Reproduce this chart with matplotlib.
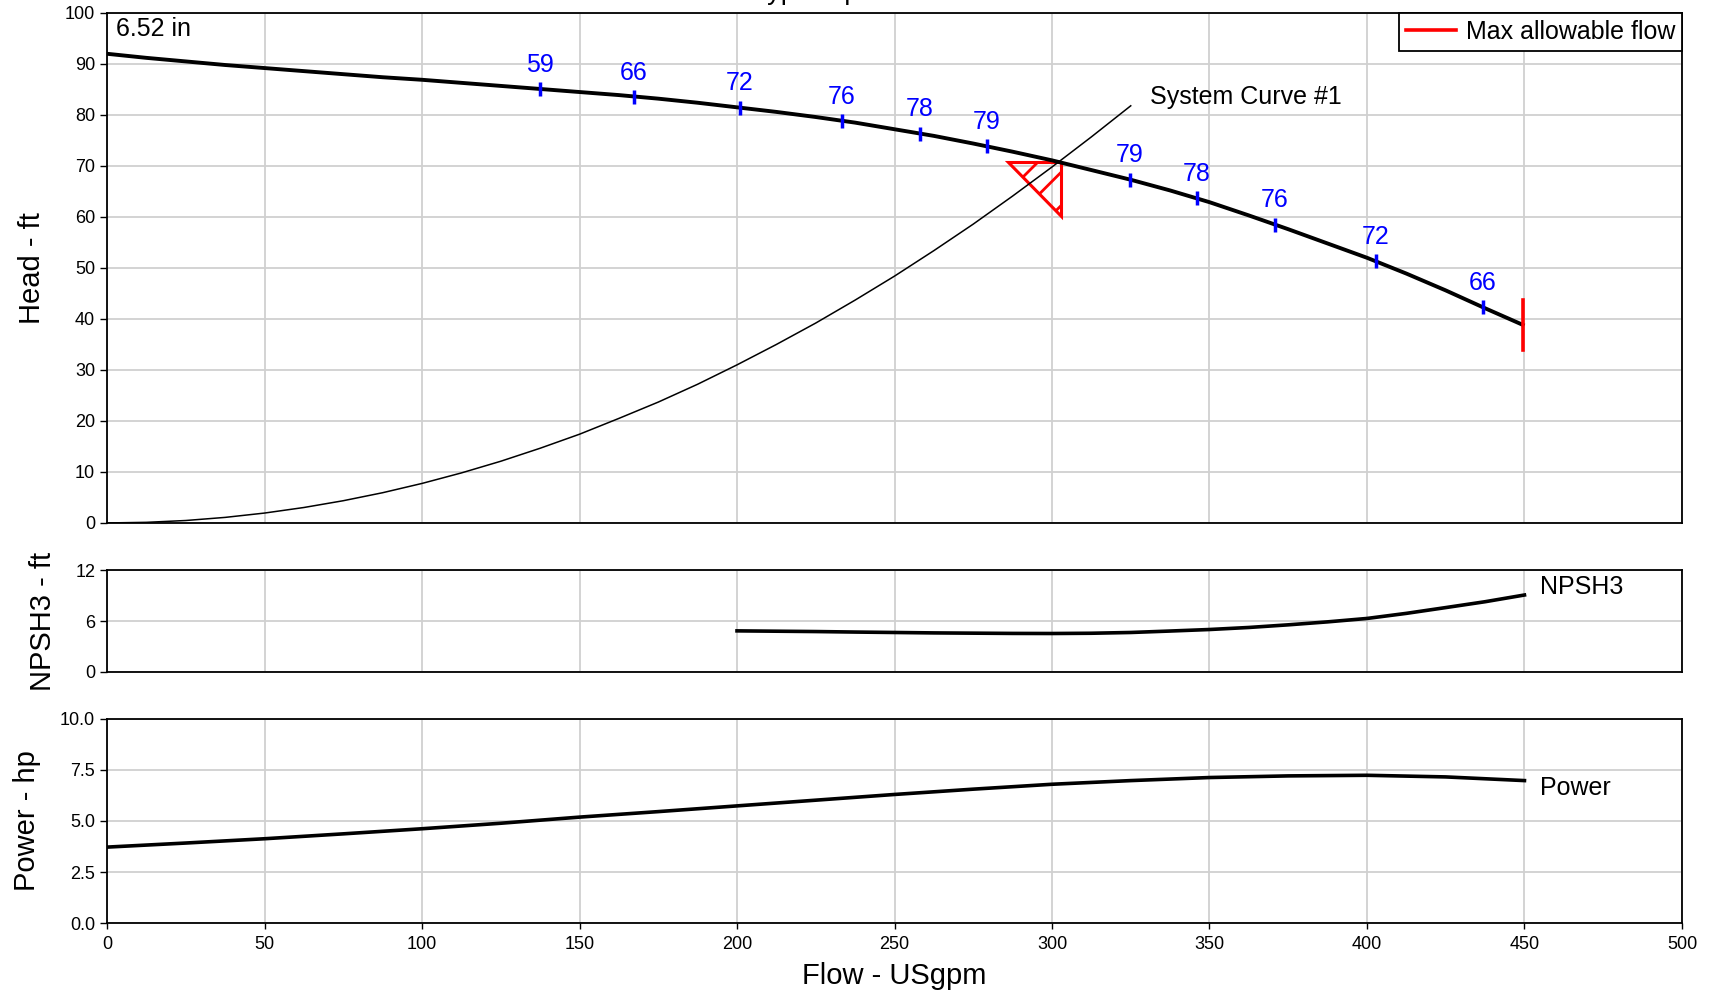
import matplotlib
matplotlib.use("Agg")
import matplotlib.pyplot as plt
from matplotlib.patches import Polygon

plt.rcParams["font.family"] = ["Liberation Sans", "DejaVu Sans"]
plt.rcParams["hatch.linewidth"] = 2.0

# --- pump curve, 6.52 in impeller ---
flow = [0, 12.5, 25, 37.5, 50, 62.5, 75, 87.5, 100, 112.5, 125, 137.5, 150,
        162.5, 175, 187.5, 200, 212.5, 225, 237.5, 250, 262.5, 275, 287.5,
        300, 312.5, 325, 337.5, 350, 362.5, 375, 387.5, 400, 412.5, 425,
        437.5, 450]
head = [92.0, 91.2, 90.5, 89.8, 89.2, 88.6, 88.0, 87.4, 86.9, 86.3, 85.7,
        85.1, 84.5, 83.9, 83.2, 82.4, 81.5, 80.6, 79.6, 78.5, 77.2, 75.9,
        74.4, 72.8, 71.1, 69.2, 67.3, 65.2, 62.9, 60.3, 57.6, 54.8, 52.0,
        48.9, 45.6, 42.1, 38.7]

power_flow = [0, 25, 50, 75, 100, 125, 150, 175, 200, 225, 250, 275, 300,
              325, 350, 375, 400, 425, 450]
power = [3.72, 3.92, 4.13, 4.37, 4.62, 4.89, 5.19, 5.46, 5.74, 6.02, 6.30,
         6.56, 6.80, 6.98, 7.13, 7.21, 7.24, 7.16, 6.98]

npsh_flow = [200, 212.5, 225, 237.5, 250, 262.5, 275, 287.5, 300, 312.5,
             325, 337.5, 350, 362.5, 375, 387.5, 400, 412.5, 425, 437.5, 450]
npsh = [4.84, 4.80, 4.76, 4.70, 4.65, 4.60, 4.57, 4.54, 4.53, 4.56, 4.65,
        4.82, 5.00, 5.24, 5.55, 5.90, 6.30, 6.90, 7.58, 8.27, 9.06]

sys_flow = [0, 12.5, 25, 37.5, 50, 62.5, 75, 87.5, 100, 112.5, 125, 137.5,
            150, 162.5, 175, 187.5, 200, 212.5, 225, 237.5, 250, 262.5, 275,
            287.5, 300, 312.5, 325]
sys_head = [0.0, 0.12, 0.48, 1.09, 1.94, 3.03, 4.36, 5.93, 7.75, 9.81, 12.1,
            14.65, 17.4, 20.5, 23.7, 27.2, 31.0, 35.0, 39.2, 43.7, 48.4,
            53.4, 58.6, 64.1, 69.8, 75.7, 81.8]

eff_flow = [137.3, 167.2, 200.9, 233.2, 258.1, 279.4, 324.8, 345.9, 370.7,
            402.8, 436.7]
eff_head = [85.0, 83.5, 81.4, 78.8, 76.3, 73.9, 67.3, 63.7, 58.5, 51.3, 42.3]
eff_labels = ["59", "66", "72", "76", "78", "79", "79", "78", "76", "72", "66"]

# duty point marker (triangle corners)
duty_flow = [286.1, 302.9, 302.9]
duty_head = [70.7, 70.7, 60.1]

max_flow = 449.5
max_flow_head = [34.0, 43.8]

x_ticks = list(range(0, 501, 50))
head_ticks = list(range(0, 101, 10))
npsh_ticks = [0, 6, 12]
power_ticks = [0.0, 2.5, 5.0, 7.5, 10.0]

GRID = "#d0d0d0"
TICK_FS = 13
LABEL_FS = 21
NOTE_FS = 18

fig = plt.figure(figsize=(17.1, 9.91), dpi=100)
ax_h = fig.add_axes([0.0626, 0.4723, 0.921, 0.5146])
ax_n = fig.add_axes([0.0626, 0.3219, 0.921, 0.1029], sharex=ax_h)
ax_p = fig.add_axes([0.0626, 0.0686, 0.921, 0.2059], sharex=ax_h)

for ax in (ax_h, ax_n, ax_p):
    ax.set_xlim(0, 500)
    ax.set_xticks(x_ticks)
    ax.grid(True, color=GRID, linewidth=1.3)
    ax.set_axisbelow(True)
    for sp in ax.spines.values():
        sp.set_linewidth(1.3)
    ax.tick_params(axis="y", labelsize=TICK_FS, length=5, width=1)
    ax.tick_params(axis="x", labelsize=TICK_FS, length=4, width=1, pad=5)
for ax in (ax_h, ax_n):
    ax.tick_params(axis="x", labelbottom=False, length=0)

# head panel
ax_h.set_ylim(0, 100)
ax_h.set_yticks(head_ticks)
ax_h.plot(sys_flow, sys_head, color="black", linewidth=1.1)
ax_h.plot(flow, head, color="black", linewidth=2.8, solid_capstyle="butt")
ax_h.plot(eff_flow, eff_head, linestyle="none", marker="|", markersize=10,
          markeredgewidth=2.5, color="blue")
for q, h, lab in zip(eff_flow, eff_head, eff_labels):
    ax_h.annotate(lab, (q, h), xytext=(0, 9), textcoords="offset points",
                  ha="center", va="bottom", color="blue", fontsize=NOTE_FS)

tri = Polygon(list(zip(duty_flow, duty_head)), closed=True, facecolor="none",
              edgecolor="red", linewidth=2.2, hatch="/")
ax_h.add_patch(tri)

ax_h.plot([max_flow, max_flow], max_flow_head, color="red", linewidth=2.6,
          label="Max allowable flow")
ax_h.text(331, 83.5, "System Curve #1", ha="left", va="center",
          fontsize=NOTE_FS)
ax_h.text(0.006, 0.968, "6.52 in", transform=ax_h.transAxes, ha="left",
          va="center", fontsize=NOTE_FS)
leg = ax_h.legend(loc="upper right", borderaxespad=0, fancybox=False,
                  framealpha=1, edgecolor="black", fontsize=NOTE_FS,
                  handlelength=2.0, handletextpad=0.4, borderpad=0.28)
leg.get_frame().set_linewidth(1.3)
ax_h.set_ylabel("Head - ft", fontsize=LABEL_FS, labelpad=13.4)

# NPSH panel
ax_n.set_ylim(0, 12)
ax_n.set_yticks(npsh_ticks)
ax_n.plot(npsh_flow, npsh, color="black", linewidth=2.6)
ax_n.text(455, 10.0, "NPSH3", ha="left", va="center", fontsize=NOTE_FS)
ax_n.set_ylabel("NPSH3 - ft", fontsize=LABEL_FS, labelpad=13)

# power panel
ax_p.set_ylim(0, 10)
ax_p.set_yticks(power_ticks)
ax_p.set_yticklabels([f"{v:.1f}" for v in power_ticks])
ax_p.plot(power_flow, power, color="black", linewidth=2.6)
ax_p.text(455, 6.6, "Power", ha="left", va="center", fontsize=NOTE_FS)
ax_p.set_ylabel("Power - hp", fontsize=LABEL_FS, labelpad=14)
ax_p.set_xlabel("Flow - USgpm", fontsize=LABEL_FS, labelpad=7)

# title sits above the canvas, only the descenders show
fig.text(0.533, 1.001, "Typical performance curve", ha="center",
         va="baseline", fontsize=19.5)

fig.savefig("out.png", dpi=100, facecolor="white")
